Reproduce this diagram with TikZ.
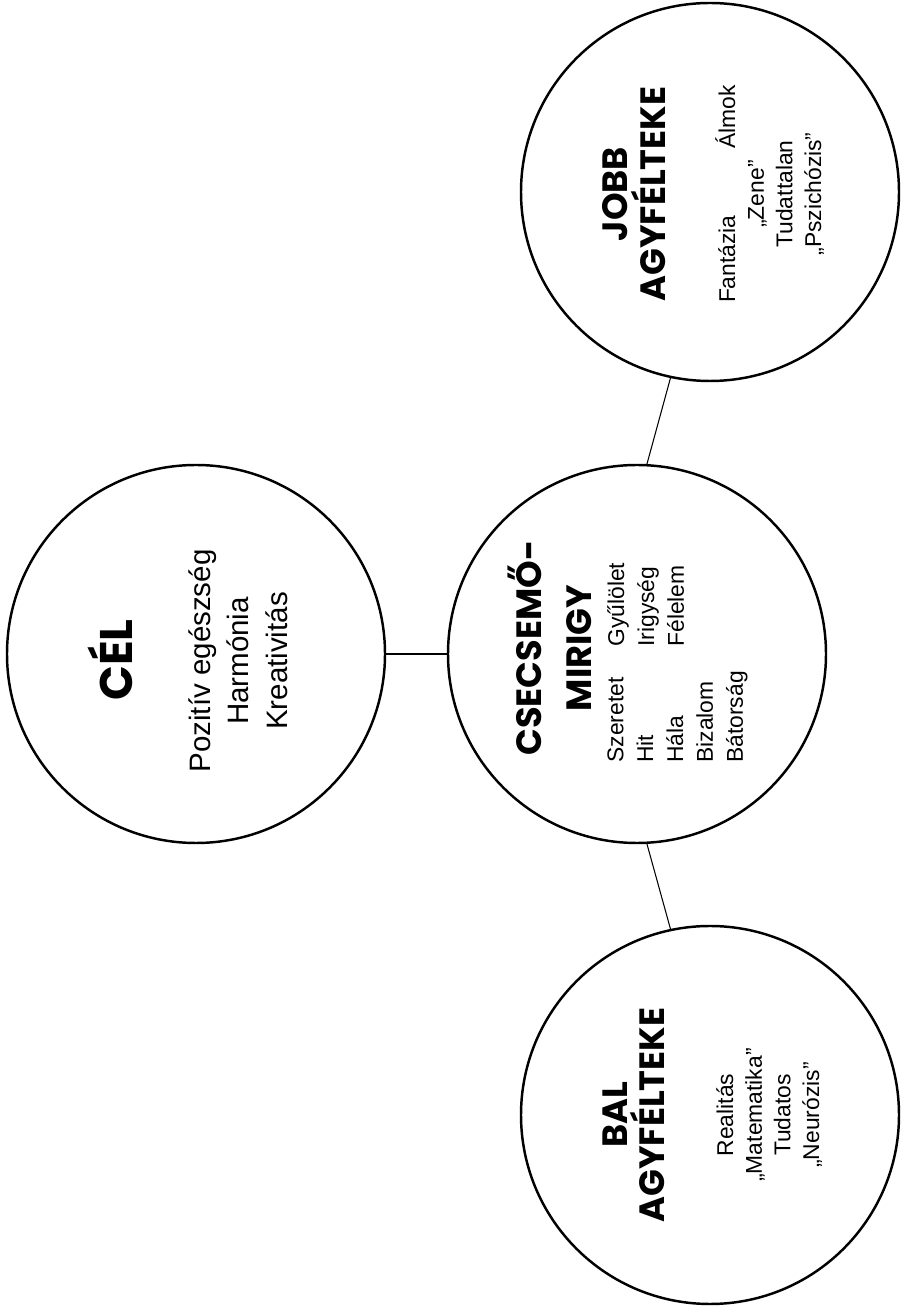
\documentclass[tikz,border=0pt]{standalone}
\usepackage{fontspec}
\setsansfont{Liberation Sans}
\newfontfamily\ttlfont{Poppins}
\begin{document}
\begin{tikzpicture}[
  bubble/.style={circle, draw=black, line width=1.4pt, minimum size=7.56cm, inner sep=0pt, rotate=90},
  ttl/.style={font=\ttlfont\bfseries\fontsize{20}{21.5}\selectfont, align=center, rotate=90, inner sep=0pt},
  txt/.style={font=\sffamily\fontsize{13}{16.3}\selectfont, align=center, rotate=90, inner sep=0pt},
  link/.style={line width=0.6pt},
]
\useasboundingbox (0,0) rectangle (18,26.2);
% circles
\node[bubble] (cel) at (3.92,13.12) {};
\node[bubble] (ctr) at (12.74,13.12) {};
\node[bubble] (jobb) at (14.2,22.36) {};
\node[bubble] (bal) at (14.2,3.9) {};
\draw[link] (cel.south) -- (ctr.north);
\draw[link] (ctr.-3) -- (jobb.168);
\draw[link] (ctr.183) -- (bal.12);
% goal
\node[ttl,font=\ttlfont\bfseries\fontsize{26}{28}\selectfont,anchor=base] (celttl) at (2.64,13.0) {CÉL};
\node[txt,font=\sffamily\fontsize{16.8}{22.1}\selectfont,anchor=north] (celtxt) at (3.76,12.98) {Pozitív egészség\\Harmónia\\Kreativitás};
% thymus
\node[ttl,font=\ttlfont\bfseries\fontsize{20}{28}\selectfont,anchor=north] (ctrttl) at (10.16,13.24) {CSECSEMŐ-\\MIRIGY};
\node[txt,align=left,font=\sffamily\fontsize{13}{17}\selectfont,anchor=north west] (ctrpos) at (12.14,10.94) {Szeretet\\Hit\\Hála\\Bizalom\\Bátorság};
\node[txt,align=left,font=\sffamily\fontsize{13}{17}\selectfont,anchor=north west] (ctrneg) at (12.14,13.26) {Gyűlölet\\Irigység\\Félelem};
% right hemisphere
\node[ttl,anchor=north] (jobbttl) at (12.04,22.32) {JOBB\\AGYFÉLTEKE};
\node[txt,anchor=north] (jobbtxt) at (14.3,22.32) {\makebox[4.36cm]{Fantázia\hfill Álmok}\\„Zene”\\Tudattalan\\„Pszichózis”};
% left hemisphere
\node[ttl,anchor=north] (balttl) at (12.04,3.9) {BAL\\AGYFÉLTEKE};
\node[txt,anchor=north] (baltxt) at (14.32,3.9) {Realitás\\„Matematika”\\Tudatos\\„Neurózis”};
\end{tikzpicture}
\end{document}
